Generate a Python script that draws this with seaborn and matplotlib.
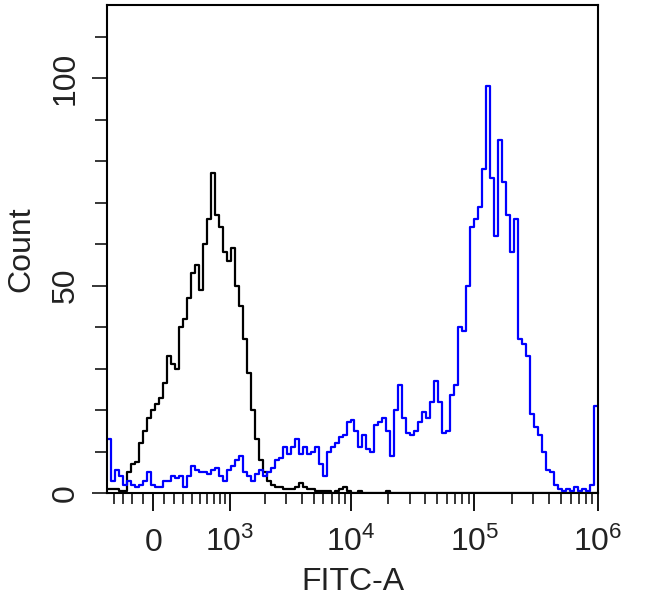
import numpy as np
import matplotlib
matplotlib.use("Agg")
import matplotlib.pyplot as plt
import seaborn as sns
from matplotlib.ticker import FixedLocator, NullFormatter

# counts per channel (123 channels, left -> right)
black_counts = [
    1, 1, 1, 0.5, 0.5, 5, 7, 7.5, 12, 15,
    18, 20, 21.5, 23, 26.5, 33, 31, 30, 40, 42,
    47, 53, 55, 49, 60, 66, 77, 67, 64, 58,
    56, 59, 50, 45, 37, 29, 20, 13, 8, 5,
    3, 2, 1.5, 1.5, 1, 1, 1, 1.5, 2.5, 1.5,
    1, 1, 0.5, 0.5, 0.5, 0.5, 0, 0.5, 1, 1.5,
    0.5, 0, 0, 0.5, 0, 0, 0, 0, 0, 0,
    0.5, 0, 0, 0, 0, 0, 0, 0, 0, 0,
    0, 0, 0, 0, 0, 0, 0, 0, 0, 0,
    0, 0, 0, 0, 0, 0, 0, 0, 0, 0,
    0, 0, 0, 0, 0, 0, 0, 0, 0, 0,
    0, 0, 0, 0, 0, 0, 0, 0, 0, 0,
    0, 0, 0,
]
blue_counts = [
    13, 3, 5.5, 4, 2, 3, 2, 1.5, 2, 3,
    5, 2, 1.5, 1.5, 3, 3, 4, 3.5, 4, 1.5,
    4, 6.5, 5.5, 5, 5, 4.5, 5.5, 6, 4, 3,
    5.5, 6.5, 8, 9, 5, 4, 3, 4.5, 5.5, 4,
    5, 6, 8, 8.5, 11, 9.5, 11, 13, 9.5, 11,
    9.5, 10, 11, 7, 4, 10, 11, 12, 13.5, 14,
    17, 17.5, 15, 11, 14, 10.5, 10, 16.5, 17, 18,
    15, 9, 20, 26, 18, 14.5, 14, 15, 17, 19.5,
    18, 22, 27, 22, 14.5, 15, 23.5, 26, 40, 39,
    50, 64, 66, 69, 78, 98, 76, 62, 85, 75,
    67, 58, 66, 37, 36, 33, 19, 16, 14, 10,
    5.5, 5, 2, 1, 0.5, 1, 0.5, 1.5, 0.5, 1,
    0.5, 2, 21,
]

x_min, x_max = -490, 1e6
tick_vals = [0, 1e3, 1e4, 1e5, 1e6]
tick_text = ["0", r"$10^3$", r"$10^4$", r"$10^5$", r"$10^6$"]
minor_vals = ([-400, -300, -200, -100] + list(range(100, 1000, 100))
              + [m * 10 ** e for e in (3, 4, 5) for m in range(2, 10)])

# biexponential-like display scale
C = 253.0


def fwd(x):
    return np.arcsinh(np.asarray(x, dtype=float) / (2 * C)) / np.log(10) + np.log10(C)


def inv(y):
    return 2 * C * np.sinh((np.asarray(y, dtype=float) - np.log10(C)) * np.log(10))


n_bins = len(blue_counts)
edges = inv(np.linspace(fwd(x_min), fwd(x_max), n_bins + 1))
centers = inv((fwd(edges[:-1]) + fwd(edges[1:])) / 2)

sns.set_style("ticks")
plt.rcParams["font.family"] = ["Liberation Sans", "DejaVu Sans"]
plt.rcParams["mathtext.fontset"] = "custom"
plt.rcParams["mathtext.rm"] = "Liberation Sans"
plt.rcParams["mathtext.it"] = "Liberation Sans"

fig = plt.figure(figsize=(6.5, 5.96), dpi=100)
ax = fig.add_axes([107 / 650, 103 / 596, 491 / 650, 488 / 596])

# bin on a linear axis first, then switch to the biexponential display
sns.histplot(x=centers, weights=black_counts, bins=edges.tolist(), element="step",
             fill=False, color="black", linewidth=1.6, ax=ax)
sns.histplot(x=centers, weights=blue_counts, bins=edges.tolist(), element="step",
             fill=False, color="#0000ff", linewidth=1.6, ax=ax)
ax.set_xscale("function", functions=(fwd, inv))

ax.set_xlim(x_min, x_max)
ax.set_ylim(0, 117.6)

ax.xaxis.set_major_locator(FixedLocator(tick_vals))
ax.set_xticklabels(tick_text)
ax.xaxis.set_minor_locator(FixedLocator(minor_vals))
ax.xaxis.set_minor_formatter(NullFormatter())
ax.yaxis.set_major_locator(FixedLocator([0, 50, 100]))
ax.yaxis.set_minor_locator(FixedLocator([10, 20, 30, 40, 60, 70, 80, 90, 110]))

for s in ax.spines.values():
    s.set_linewidth(1.5)
    s.set_color("black")

ax.tick_params(axis="x", which="major", length=13, width=1.3, pad=29,
               labelsize=23, colors="black", labelcolor="#222222")
ax.tick_params(axis="x", which="minor", length=8, width=1.3)
ax.tick_params(axis="y", which="major", length=11, width=1.3, pad=8,
               labelsize=23, labelcolor="#222222")
ax.tick_params(axis="y", which="minor", length=9, width=1.3)
for lbl in ax.get_yticklabels():
    lbl.set_rotation(90)
    lbl.set_verticalalignment("center")
for lbl in ax.get_xticklabels():
    lbl.set_verticalalignment("baseline")

ax.set_xlabel("FITC-A", fontsize=23, color="#222222")
ax.set_ylabel("Count", fontsize=23, color="#222222")
ax.xaxis.set_label_coords(0.5, -0.152)
ax.yaxis.set_label_coords(-0.143, 0.5)

fig.savefig("out.png", dpi=100)
